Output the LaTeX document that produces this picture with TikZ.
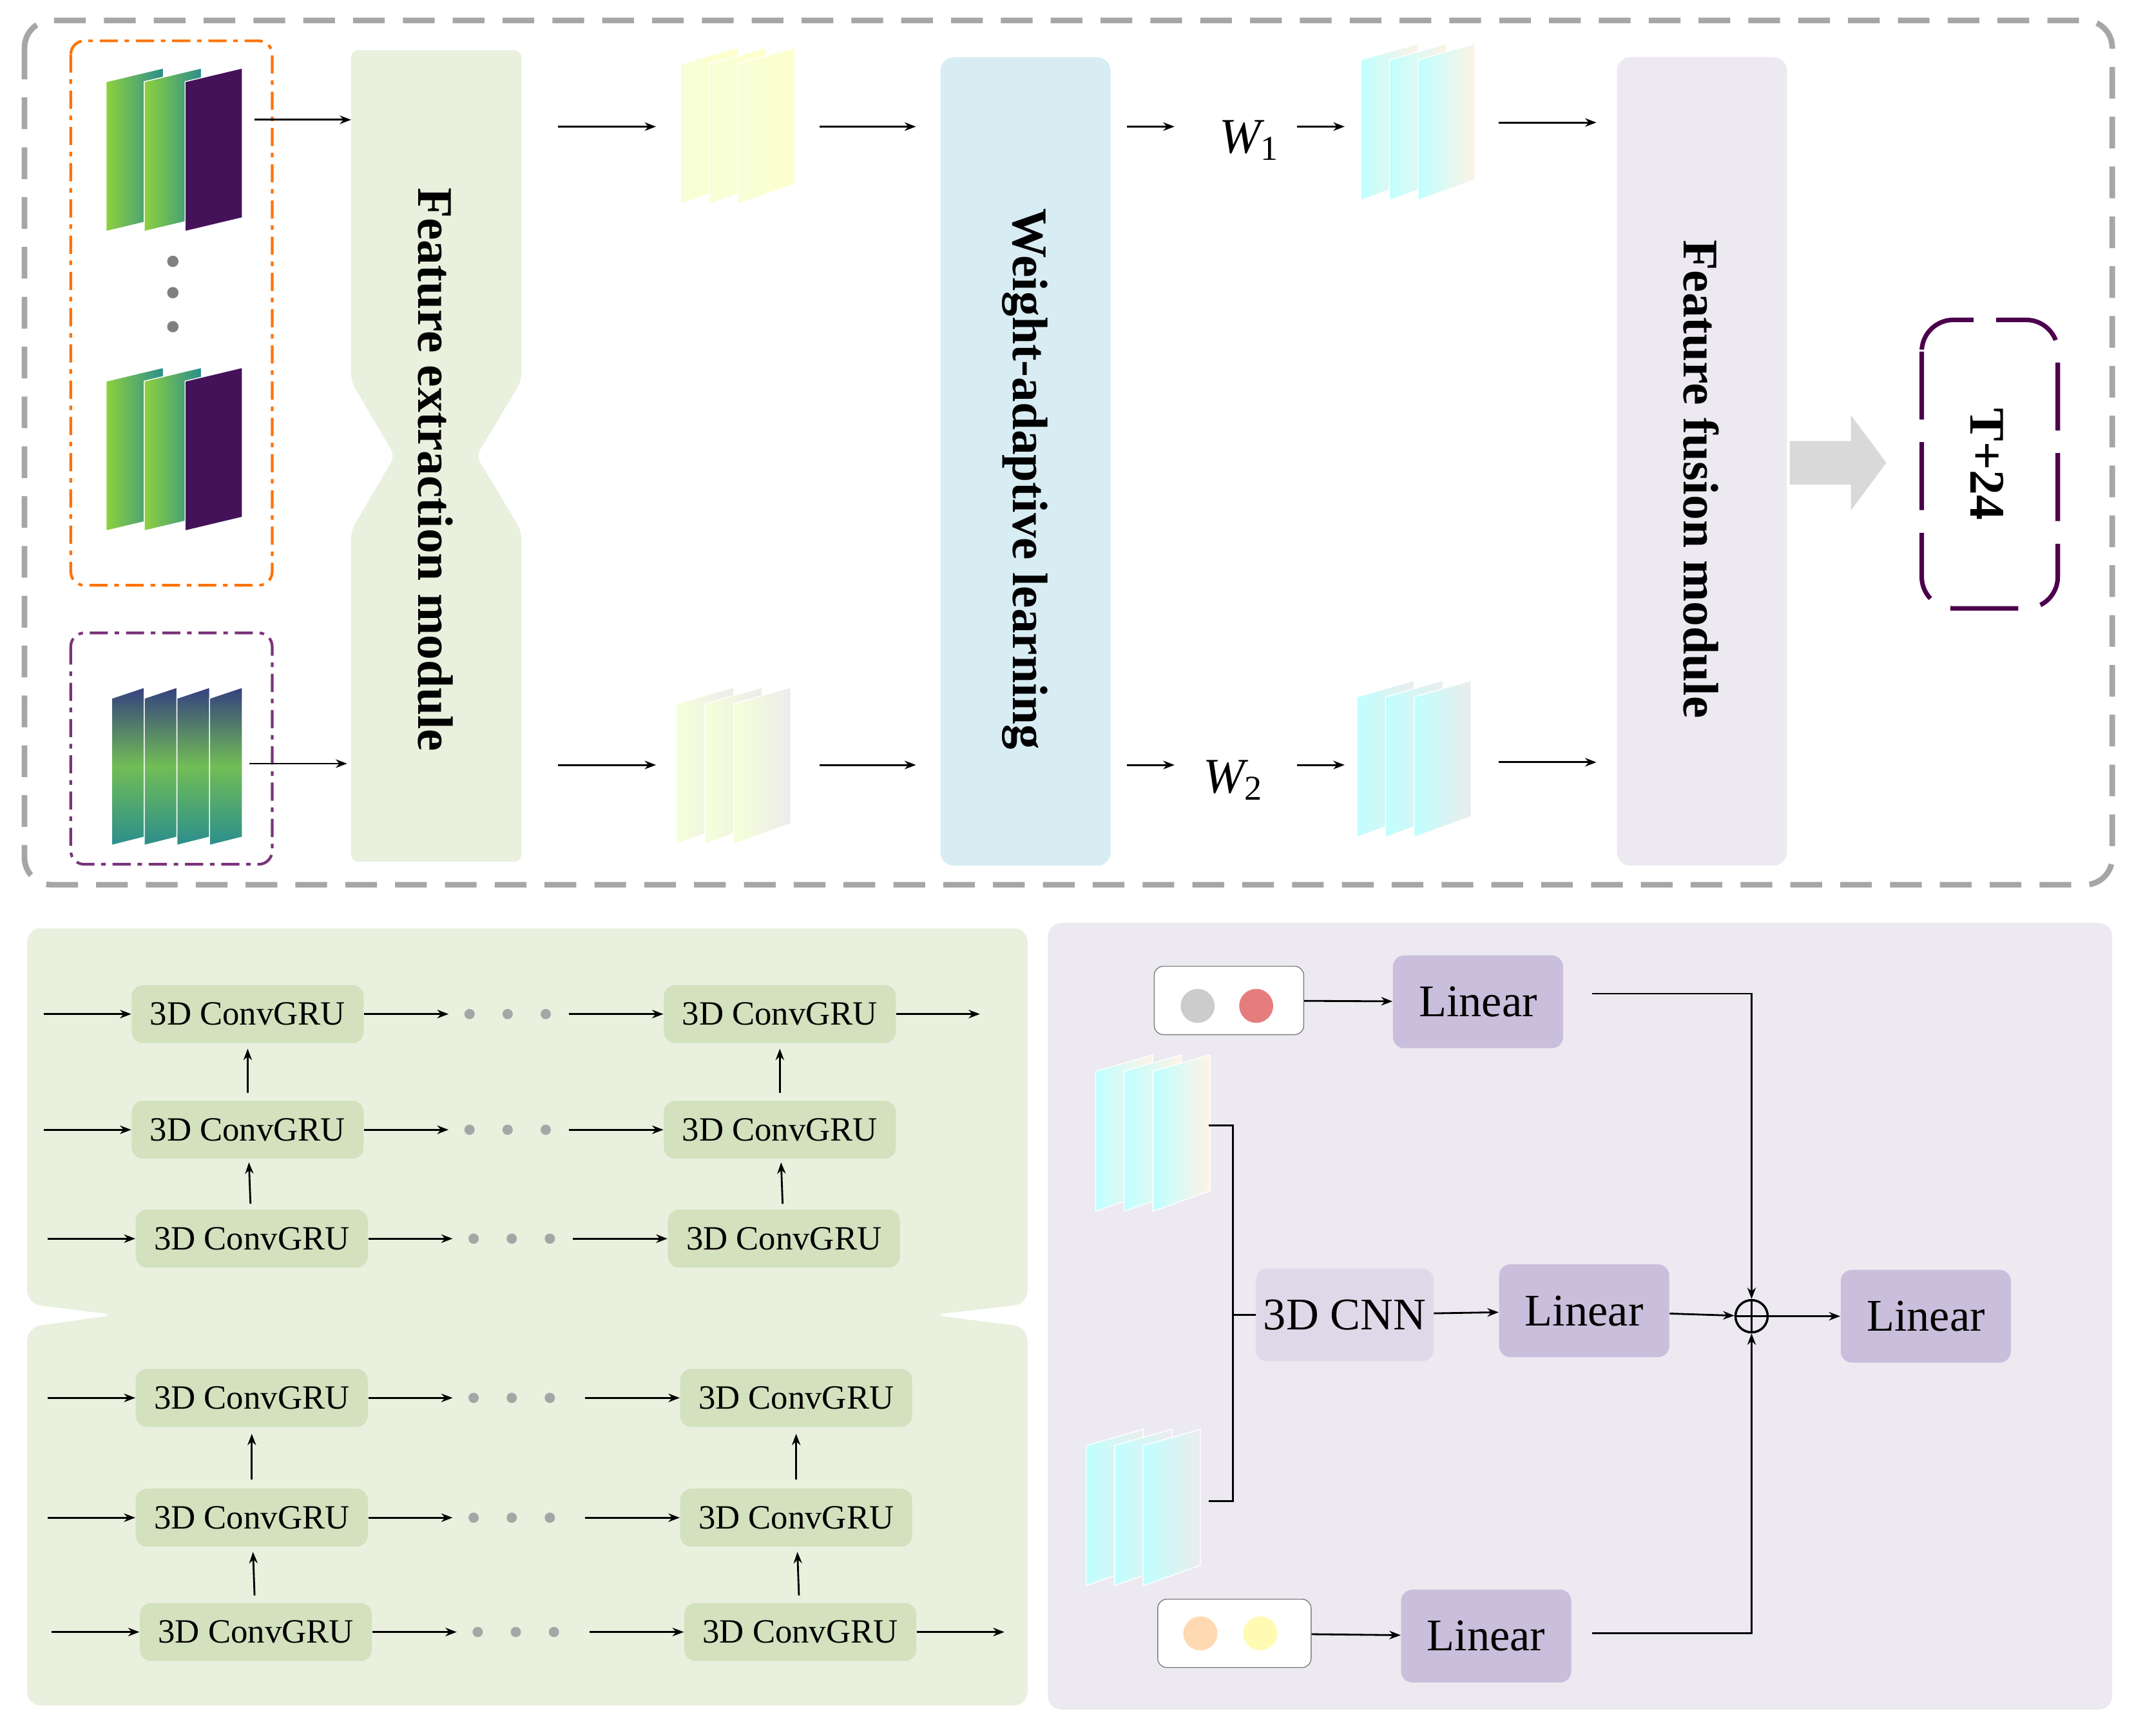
\documentclass[tikz,border=0pt]{standalone}
\usepackage{fontspec}
\setmainfont{Liberation Serif}
\usetikzlibrary{arrows.meta,positioning,calc}
\definecolor{panelgreen}{HTML}{E9F0DE}
\definecolor{gruboxc}{HTML}{D3E1BE}
\definecolor{panelblue}{HTML}{D8EDF3}
\definecolor{panellav}{HTML}{ECE9F1}
\definecolor{linbox}{HTML}{C9BEDB}
\definecolor{vpurple}{HTML}{45125A}
\definecolor{vgreen}{HTML}{8FD13E}
\definecolor{vteal}{HTML}{2B8E8C}
\definecolor{vblue}{HTML}{35407F}
\tikzset{
  arr/.style={-{Stealth[length=5pt]}, line width=0.8pt},
  title/.style={rotate=-90, font=\fontsize{22}{24}\selectfont\bfseries},
  gru/.style={rounded corners=5pt, fill=gruboxc, minimum width=3.6cm, minimum height=0.9cm, font=\fontsize{15}{17}\selectfont},
  lin/.style={rounded corners=5pt, fill=linbox, minimum width=2.64cm, minimum height=1.44cm, font=\fontsize{20}{22}\selectfont},
  dot/.style={circle, fill=gray!70, inner sep=1.6pt},
  pics/fmap/.style 2 args={code={
    \foreach \k in {0,1,2}
      \shade[left color=#1, right color=#2, draw=white, line width=0.4pt]
        (\k*21,12) -- (\k*21+42,0) -- (\k*21+42,100) -- (\k*21,115) -- cycle;
  }},
  pics/sat/.style={code={
    \shade[left color=vgreen, right color=vteal, draw=white] (0,10) -- (42,0) -- (42,110) -- (0,120) -- cycle;
    \shade[left color=vgreen, right color=vteal, draw=white] (28,10) -- (70,0) -- (70,110) -- (28,120) -- cycle;
    \fill[vpurple, draw=white] (58,10) -- (100,0) -- (100,110) -- (58,120) -- cycle;
  }},
  pics/grid/.style={code={
    \foreach \k in {0,1,2,3}
      \shade[top color=vblue, bottom color=vteal, middle color=vgreen!70!vteal, draw=white] (\k*24,8) -- (\k*24+24,0) -- (\k*24+24,110) -- (\k*24,116) -- cycle;
  }}
}
\begin{document}
\begin{tikzpicture}[x=0.02112cm, y=-0.02112cm]
  \useasboundingbox (0,0) rectangle (1568,1275);
  % top frame
  \draw[gray!70, line width=2.5pt, dash pattern=on 14pt off 8pt, rounded corners=12pt] (18,15) rectangle (1552,650);
  \draw[orange!90!red, line width=1.2pt, dash pattern=on 8pt off 3pt on 2pt off 3pt, rounded corners=6pt] (52,30) rectangle (200,430);
  \draw[violet!70!black!80, line width=1.2pt, dash pattern=on 8pt off 3pt on 2pt off 3pt, rounded corners=6pt] (52,465) rectangle (200,635);
  \pic at (78,50) {sat};
  \pic at (78,270) {sat};
  \foreach \yy in {192,215,240} \fill[gray] (127,\yy) circle (2.5pt);
  \pic at (82,505) {grid};
  % modules
  \fill[panelgreen, rounded corners=3pt] (258,37) -- (383,37) -- (383,280) -- (350,335) -- (383,390) -- (383,633)
    -- (258,633) -- (258,390) -- (290,335) -- (258,280) -- cycle;
  \node[title] (fem) at (320,345) {Feature extraction module};
  \fill[panelblue, rounded corners=6pt] (691,42) rectangle (816,636);
  \node[title] (wal) at (753,352) {Weight-adaptive learning};
  \fill[panellav, rounded corners=6pt] (1188,42) rectangle (1313,636);
  \node[title] (ffm) at (1250,352) {Feature fusion module};
  \pic at (500,35) {fmap={green!25!yellow!15}{yellow!20}};
  \pic at (497,505) {fmap={green!25!yellow!15}{gray!15}};
  \pic at (1000,32) {fmap={cyan!25}{orange!10}};
  \pic at (997,500) {fmap={cyan!25}{gray!15}};
  \node[font=\fontsize{22}{24}\selectfont\itshape] (w1) at (918,103) {W\textsubscript{\upshape 1}};
  \node[font=\fontsize{22}{24}\selectfont\itshape] (w2) at (906,573) {W\textsubscript{\upshape 2}};
  \foreach \a/\b/\yy in {187/258/88, 183/255/561, 410/482/93, 410/482/562, 602/673/93, 602/673/562,
      828/863/93, 828/863/562, 953/988/93, 953/988/562, 1101/1173/90, 1101/1173/560}
    \draw[arr] (\a,\yy) -- (\b,\yy);
  \fill[gray!30] (1315,324) -- (1360,324) -- (1360,305) -- (1386,340) -- (1360,375) -- (1360,356) -- (1315,356) -- cycle;
  \draw[violet!60!black, line width=2pt, dash pattern=on 30pt off 10pt, rounded corners=14pt] (1412,235) rectangle (1512,447);
  \node[title] (out) at (1460,341) {T+24};
  % bottom left
  \fill[panelgreen, rounded corners=6pt] (20,682) -- (755,682) -- (755,958) -- (685,966) -- (755,975) -- (755,1253)
    -- (20,1253) -- (20,975) -- (85,966) -- (20,958) -- cycle;
  \foreach \yy/\a/\b/\e [count=\i] in {745/182/573/720, 830/182/573/0, 910/185/576/0, 1027/185/585/0, 1115/185/585/0, 1199/188/588/738} {
    \node[gru] (r\i a) at (\a,\yy) {3D ConvGRU};
    \node[gru] (r\i b) at (\b,\yy) {3D ConvGRU};
    \coordinate (in\i) at (\a-150,\yy);
    \draw[arr] (in\i) -- (r\i a);
    \draw[arr] (r\i a.east) -- ++(62,0);
    \foreach \d in {0,28,56} \node[dot] at (\a+163+\d,\yy) {};
    \draw[arr] (\b-155,\yy) -- (r\i b);
    \ifnum\e>0 \draw[arr] (r\i b) -- (\e,\yy); \fi
  }
  \foreach \i/\j in {1/2, 2/3, 4/5, 5/6} {
    \draw[arr] ($(r\j a)!0.32!(r\i a)$) -- ($(r\j a)!0.7!(r\i a)$);
    \draw[arr] ($(r\j b)!0.32!(r\i b)$) -- ($(r\j b)!0.7!(r\i b)$);
  }
  % bottom right
  \fill[panellav, rounded corners=6pt] (770,678) rectangle (1552,1256);
  \node[draw=gray, fill=white, rounded corners=4pt, minimum width=2.32cm, minimum height=1.06cm] (emb1) at (903,735) {};
  \fill[gray!40] (880,739) circle (7.5pt);
  \fill[red!35!pink!80!gray] (923,739) circle (7.5pt);
  \node[draw=gray, fill=white, rounded corners=4pt, minimum width=2.38cm, minimum height=1.06cm] (emb2) at (907,1200) {};
  \fill[orange!30] (882,1200) circle (7.5pt);
  \fill[yellow!30] (926,1200) circle (7.5pt);
  \node[lin] (l1) at (1086,736) {Linear};
  \node[lin] (l2) at (1164,963) {Linear};
  \node[lin] (l3) at (1092,1202) {Linear};
  \node[lin] (l4) at (1415,967) {Linear};
  \node[rounded corners=5pt, fill=linbox!60, minimum width=2.62cm, minimum height=1.44cm, font=\fontsize{20}{22}\selectfont] (cnn) at (988,966) {3D CNN};
  \node[draw, circle, line width=1pt, inner sep=0pt, minimum size=0.5cm] (plus) at (1287,967) {};
  \draw[line width=1pt] (plus.north) -- (plus.south) (plus.west) -- (plus.east);
  \pic at (805,775) {fmap={cyan!25}{orange!10}};
  \pic at (798,1050) {fmap={cyan!25}{gray!15}};
  \draw[line width=0.9pt] (888,827) -- (906,827) -- (906,1103) -- (888,1103);
  \draw[line width=0.9pt] (906,966) -- (cnn.west);
  \draw[arr] (emb1) -- (l1);
  \draw[arr] (emb2) -- (l3);
  \draw[arr] (cnn) -- (l2);
  \draw[arr] (l2) -- (plus);
  \draw[arr] (plus) -- (l4);
  \draw[arr] (1170,730) -| (plus.north);
  \draw[arr] (1170,1200) -| (plus.south);
\end{tikzpicture}
\end{document}
